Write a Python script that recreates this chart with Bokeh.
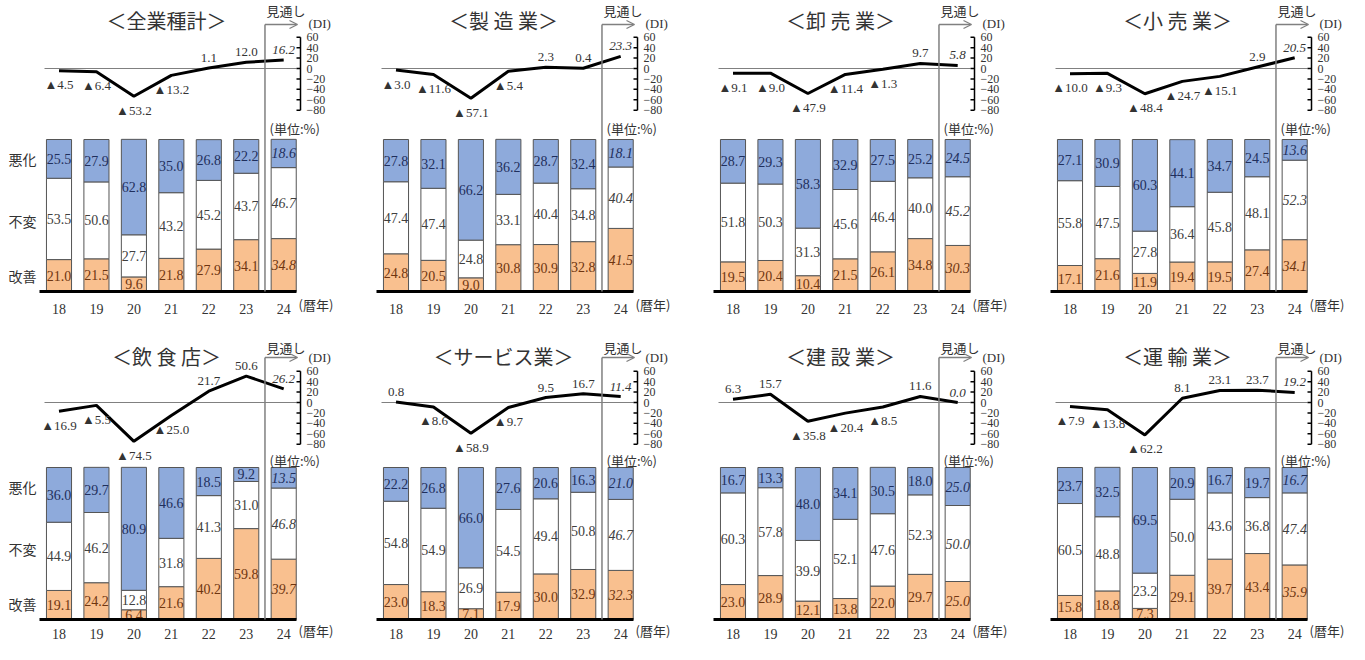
import numpy as np
from bokeh.plotting import figure
from bokeh.layouts import row, column
from bokeh.models import Range1d, ColumnDataSource, Arrow, OpenHead
from bokeh.core.properties import value
from bokeh.embed import file_html
from bokeh.resources import INLINE

# ---------------- data ----------------
YEARS = [18, 19, 20, 21, 22, 23, 24]
YEAR_LABELS = ["18", "19", "20", "21", "22", "23", "24"]
DI_TICKS = [60, 40, 20, 0, -20, -40, -60, -80]
SEG_LABELS = ["悪化", "不変", "改善"]

TITLES = ["＜全業種計＞", "＜製 造 業＞", "＜卸 売 業＞", "＜小 売 業＞",
          "＜飲 食 店＞", "＜サービス業＞", "＜建 設 業＞", "＜運 輸 業＞"]

di_total = [-4.5, -6.4, -53.2, -13.2, 1.1, 12.0, 16.2]
up_total = [21.0, 21.5, 9.6, 21.8, 27.9, 34.1, 34.8]
flat_total = [53.5, 50.6, 27.7, 43.2, 45.2, 43.7, 46.7]
down_total = [25.5, 27.9, 62.8, 35.0, 26.8, 22.2, 18.6]

di_manu = [-3.0, -11.6, -57.1, -5.4, 2.3, 0.4, 23.3]
up_manu = [24.8, 20.5, 9.0, 30.8, 30.9, 32.8, 41.5]
flat_manu = [47.4, 47.4, 24.8, 33.1, 40.4, 34.8, 40.4]
down_manu = [27.8, 32.1, 66.2, 36.2, 28.7, 32.4, 18.1]

di_whole = [-9.1, -9.0, -47.9, -11.4, -1.3, 9.7, 5.8]
up_whole = [19.5, 20.4, 10.4, 21.5, 26.1, 34.8, 30.3]
flat_whole = [51.8, 50.3, 31.3, 45.6, 46.4, 40.0, 45.2]
down_whole = [28.7, 29.3, 58.3, 32.9, 27.5, 25.2, 24.5]

di_retail = [-10.0, -9.3, -48.4, -24.7, -15.1, 2.9, 20.5]
up_retail = [17.1, 21.6, 11.9, 19.4, 19.5, 27.4, 34.1]
flat_retail = [55.8, 47.5, 27.8, 36.4, 45.8, 48.1, 52.3]
down_retail = [27.1, 30.9, 60.3, 44.1, 34.7, 24.5, 13.6]

di_food = [-16.9, -5.5, -74.5, -25.0, 21.7, 50.6, 26.2]
up_food = [19.1, 24.2, 6.4, 21.6, 40.2, 59.8, 39.7]
flat_food = [44.9, 46.2, 12.8, 31.8, 41.3, 31.0, 46.8]
down_food = [36.0, 29.7, 80.9, 46.6, 18.5, 9.2, 13.5]

di_serv = [0.8, -8.6, -58.9, -9.7, 9.5, 16.7, 11.4]
up_serv = [23.0, 18.3, 7.1, 17.9, 30.0, 32.9, 32.3]
flat_serv = [54.8, 54.9, 26.9, 54.5, 49.4, 50.8, 46.7]
down_serv = [22.2, 26.8, 66.0, 27.6, 20.6, 16.3, 21.0]

di_const = [6.3, 15.7, -35.8, -20.4, -8.5, 11.6, 0.0]
up_const = [23.0, 28.9, 12.1, 13.8, 22.0, 29.7, 25.0]
flat_const = [60.3, 57.8, 39.9, 52.1, 47.6, 52.3, 50.0]
down_const = [16.7, 13.3, 48.0, 34.1, 30.5, 18.0, 25.0]

di_trans = [-7.9, -13.8, -62.2, 8.1, 23.1, 23.7, 19.2]
up_trans = [15.8, 18.8, 7.3, 29.1, 39.7, 43.4, 35.9]
flat_trans = [60.5, 48.8, 23.2, 50.0, 43.6, 36.8, 47.4]
down_trans = [23.7, 32.5, 69.5, 20.9, 16.7, 19.7, 16.7]

PANELS = [
    (di_total, up_total, flat_total, down_total),
    (di_manu, up_manu, flat_manu, down_manu),
    (di_whole, up_whole, flat_whole, down_whole),
    (di_retail, up_retail, flat_retail, down_retail),
    (di_food, up_food, flat_food, down_food),
    (di_serv, up_serv, flat_serv, down_serv),
    (di_const, up_const, flat_const, down_const),
    (di_trans, up_trans, flat_trans, down_trans),
]

# ---------------- style / layout ----------------
BLUE = "#8EAADB"
ORANGE = "#F9C08F"
GRAY = "#808080"
TXT = "#333333"
SERIF = value("Liberation Serif")
JP = value("Noto Sans CJK JP")

PANEL_W = [337, 337, 337, 337]
ROW_H = [326, 318]
SHIFT_Y = [8, 6]
SHIFT_X = 4
SX = 37.45          # px per year
X18 = 62.5          # px of first bar centre in panel
BAR_PX = 1.52       # px per percent
BASE = 299          # px of bar baseline
DI_PX = 0.5214      # px per DI point
ZERO = [76, 82]     # px of DI zero line per row
ROWPOS = [
    dict(title=28, mito=18, arrow=32, dil=31, unit=136, year=316, reki=312),
    dict(title=36, mito=27, arrow=37, dil=37, unit=140, year=313, reki=310),
]


def make_panel(idx):
    r, c = divmod(idx, 4)
    W, H, sy = PANEL_W[c], ROW_H[r], SHIFT_Y[r]
    pos = ROWPOS[r]

    def X(px):
        return YEARS[0] + (px - X18) / SX

    def YP(px):
        return (BASE - px) / BAR_PX

    def YD(px):
        return (ZERO[r] - px) / DI_PX

    p = figure(width=W, height=H, output_backend="svg", toolbar_location=None,
               x_range=Range1d(X(SHIFT_X), X(SHIFT_X + W)),
               y_range=Range1d(YP(sy + H), YP(sy)),
               x_axis_type=None, y_axis_type=None, min_border=0,
               outline_line_color=None, background_fill_color="white",
               border_fill_color="white")
    p.extra_y_ranges = {"di": Range1d(YD(sy + H), YD(sy))}

    di, up, flat, down = PANELS[idx]
    up_a, flat_a, down_a = np.array(up), np.array(flat), np.array(down)
    src = ColumnDataSource(dict(x=YEARS, up=up, flat=flat, down=down))
    p.vbar_stack(["up", "flat", "down"], x="x", width=0.67, source=src,
                 fill_color=[ORANGE, "white", BLUE], line_color="#555555",
                 line_width=1)

    styles = ["normal"] * (len(YEARS) - 1) + ["italic"]
    for vals, centre, col in [
        (up, up_a / 2, "#6E3510"),
        (flat, up_a + flat_a / 2, "#404040"),
        (down, up_a + flat_a + down_a / 2, "#1F2F5C"),
    ]:
        s = ColumnDataSource(dict(x=YEARS, y=list(centre),
                                  t=[f"{v:.1f}" for v in vals], st=styles))
        p.text(x="x", y="y", text="t", source=s, text_font=SERIF,
               text_font_size="14px", text_color=col, text_align="center",
               text_baseline="middle", text_font_style="st")

    # baseline
    p.segment(x0=[X(43)], y0=[0], x1=[X(300)], y1=[0], line_color="black",
              line_width=3)

    # DI zero line and DI line
    p.segment(x0=[X(48)], y0=[0], x1=[X(300)], y1=[0], y_range_name="di",
              line_color=GRAY, line_width=1)
    p.line(YEARS, di, y_range_name="di", line_color="black", line_width=3)

    lab_y = [v - 14 / DI_PX if v < 0 else v + 10 / DI_PX for v in di]
    lab_t = [("▲" + f"{abs(v):.1f}") if v < 0 else f"{v:.1f}" for v in di]
    ls = ColumnDataSource(dict(x=YEARS, y=lab_y, t=lab_t, st=styles))
    p.text(x="x", y="y", text="t", source=ls, y_range_name="di",
           text_font=SERIF, text_font_size="13px", text_color=TXT,
           text_align="center", text_baseline="middle", text_font_style="st")

    # DI scale
    p.segment(x0=[X(304)], y0=[min(DI_TICKS)], x1=[X(304)], y1=[max(DI_TICKS)],
              y_range_name="di", line_color="black", line_width=1.5)
    p.segment(x0=[X(300)] * len(DI_TICKS), y0=DI_TICKS,
              x1=[X(304)] * len(DI_TICKS), y1=DI_TICKS,
              y_range_name="di", line_color="black", line_width=1.5)
    p.text(x=[X(310)] * len(DI_TICKS), y=DI_TICKS,
           text=[(("−" + str(-t)) if t < 0 else str(t)) for t in DI_TICKS],
           y_range_name="di", text_font=SERIF, text_font_size="12px",
           text_color=TXT, text_align="left", text_baseline="middle")

    # forecast marker
    xm = (YEARS[-2] + YEARS[-1]) / 2
    p.segment(x0=[xm], y0=[0], x1=[xm], y1=[YP(pos["arrow"])],
              line_color=GRAY, line_width=1.5)
    p.add_layout(Arrow(end=OpenHead(size=8, line_color=GRAY, line_width=1.3),
                       x_start=xm, y_start=YP(pos["arrow"]),
                       x_end=X(301), y_end=YP(pos["arrow"]),
                       line_color=GRAY, line_width=1.3))
    p.text(x=[X(270)], y=[YP(pos["mito"])], text=["見通し"], text_font=JP,
           text_font_size="13px", text_color=TXT, text_align="left",
           text_baseline="middle")
    p.text(x=[X(312)], y=[YP(pos["dil"])], text=["(DI)"], text_font=SERIF,
           text_font_size="13px", text_color=TXT, text_align="left",
           text_baseline="middle")
    p.text(x=[X(273)], y=[YP(pos["unit"])], text=["(単位:%)"], text_font=JP,
           text_font_size="13px", text_color=TXT, text_align="left",
           text_baseline="middle")
    p.text(x=[X(302)], y=[YP(pos["reki"])], text=["(暦年)"], text_font=JP,
           text_font_size="13px", text_color=TXT, text_align="left",
           text_baseline="middle")

    # title
    p.text(x=[X(170)], y=[YP(pos["title"])], text=[TITLES[idx]], text_font=JP,
           text_font_size="20px", text_color=TXT, text_align="center",
           text_baseline="middle")

    # year labels
    p.text(x=YEARS, y=[YP(pos["year"])] * len(YEARS), text=YEAR_LABELS,
           text_font=SERIF, text_font_size="14px", text_color=TXT,
           text_align="center", text_baseline="middle")

    if c == 0:
        p.text(x=[X(26)] * 3, y=[87.5, 46.7, 10.2], text=SEG_LABELS,
               text_font=JP, text_font_size="14px", text_color=TXT,
               text_align="center", text_baseline="middle")
    return p


figs = [make_panel(i) for i in range(8)]
layout = column(row(*figs[:4]), row(*figs[4:]))
open("out.html", "w").write(file_html(layout, INLINE))
